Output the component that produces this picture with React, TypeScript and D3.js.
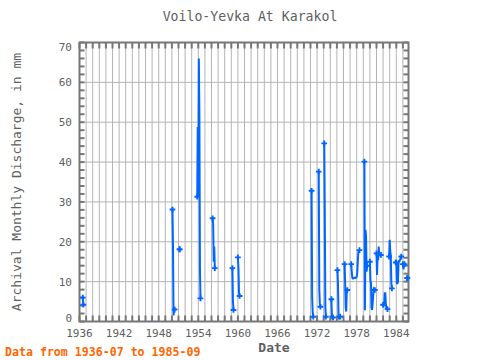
import * as d3 from 'd3';

// --- Data (monthly, contiguous runs) ---
const segStarts = [
  '1936-07', '1950-02', '1951-03', '1953-11', '1956-03', '1959-03', '1960-01',
  '1971-03', '1972-04', '1973-02', '1974-03', '1975-02', '1976-03', '1977-03',
  '1979-03', '1980-01', '1981-01', '1982-01', '1982-12', '1983-12', '1985-01', '1985-09',
];
const segValues: number[][] = [
  [6.0, 4.2],
  [28.1, 18.8, 1.5, 3.3, 3.0],
  [18.1],
  [31.3, 48.8, 31.5, 66.0, 51.8, 13.1, 5.8],
  [25.9, 24.6, 15.0, 18.8, 13.4],
  [13.4, 5.0, 2.9],
  [16.1, 13.4, 7.3, 6.4],
  [32.8, 6.2, 2.2, 1.2],
  [37.6, 7.9, 4.6, 3.7],
  [44.7, 26.7, 3.7, 1.2],
  [5.6, 1.2, 0.8, 1.0],
  [12.9, 9.2, 1.2, 0.8, 1.0, 1.2],
  [14.4, 9.6, 3.5, 2.5, 8.3, 7.9],
  [14.4, 12.5, 11.0, 10.8, 10.8, 10.9, 11.0, 11.0, 10.9, 11.0, 11.2, 12.2, 15.0, 17.4, 17.6, 17.9],
  [40.1, 2.8, 23.0, 21.5, 12.5, 14.0],
  [15.0, 10.4, 9.5, 3.4, 2.9, 4.5, 6.5, 8.1, 7.9, 7.9],
  [17.1, 11.7, 16.5, 15.4, 18.8, 16.5, 16.8, 16.7, 16.7],
  [4.2, 4.0, 4.5, 7.1, 7.1, 4.5, 3.3, 3.1, 3.1],
  [16.3, 20.5, 17.7, 16.5, 9.6, 8.3],
  [14.8, 15.5, 9.6, 9.6, 9.8, 14.5, 15.2, 15.2, 15.5, 16.0, 16.3],
  [14.4, 13.1, 14.0, 14.4],
  [10.9],
];

const yTicks = [0, 10, 20, 30, 40, 50, 60, 70];
const xTickYears = [1936, 1942, 1948, 1954, 1960, 1966, 1972, 1978, 1984];

const TITLE = 'Voilo-Yevka At Karakol';
const Y_LABEL = 'Archival Monthly Discharge, in mm';
const X_LABEL = 'Date';
const NOTE = 'Data from 1936-07 to 1985-09';

const W = 480, H = 360;
const M = { left: 79.5, right: 408.5, top: 42.5, bottom: 321.5 };
const FONT = '"DejaVu Sans Mono", monospace';
const BLUE = '#0066ff';
const AXIS = '#777777';
const GRID = '#b4b4b4';
const TEXT = '#606060';

const toYear = (s: string, i: number) => {
  const [y, m] = s.split('-').map(Number);
  return y + (m - 1 + i) / 12;
};

export default function App() {
  const x = d3.scaleLinear().domain([1936, 1985.85]).range([M.left, M.right]);
  const y = d3.scaleLinear().domain([0, 70]).range([M.bottom, M.top]);

  const segs = segStarts.map((s, k) => segValues[k].map((v, i) => [toYear(s, i), v] as [number, number]));
  const line = d3.line<[number, number]>().x(d => x(d[0])).y(d => y(d[1]));
  const cross = d3.symbol().type(d3.symbolCross).size(18)();

  const years = d3.range(1936, 1986);
  const minorY = d3.range(0, 71, 2);

  return (
    <svg width={W} height={H} style={{ position: 'absolute', left: 0, top: 0, background: '#fff' }}>
      <text x={250} y={21} textAnchor="middle" fontFamily={FONT} fontSize={13.2} fill={TEXT}>{TITLE}</text>

      {/* grid */}
      {years.map(yr => (
        <line key={'gx' + yr} x1={x(yr)} x2={x(yr)} y1={M.top} y2={M.bottom} stroke={GRID} strokeWidth={1} />
      ))}
      {yTicks.map(t => (
        <line key={'gy' + t} x1={M.left} x2={M.right} y1={y(t)} y2={y(t)} stroke={GRID} strokeWidth={1} />
      ))}

      {/* ticks */}
      {years.map(yr => (
        <g key={'tx' + yr}>
          <line x1={x(yr)} x2={x(yr)} y1={M.bottom} y2={M.bottom - 6} stroke={AXIS} strokeWidth={2} />
          <line x1={x(yr)} x2={x(yr)} y1={M.top} y2={M.top + 6} stroke={AXIS} strokeWidth={2} />
        </g>
      ))}
      {minorY.map(t => (
        <g key={'ty' + t}>
          <line x1={M.left} x2={M.left + 5} y1={y(t)} y2={y(t)} stroke={AXIS} strokeWidth={2} />
          <line x1={M.right} x2={M.right - 5} y1={y(t)} y2={y(t)} stroke={AXIS} strokeWidth={2} />
        </g>
      ))}
      <rect x={M.left} y={M.top} width={M.right - M.left} height={M.bottom - M.top} fill="none" stroke={AXIS} strokeWidth={2} />

      {/* tick labels */}
      {yTicks.map(t => (
        <text key={'ly' + t} x={72} y={y(t) + 4 + (t === 0 ? -4 : t === 70 ? 4 : 0)} textAnchor="end"
          fontFamily={FONT} fontSize={11} fill={TEXT}>{t}</text>
      ))}
      {xTickYears.map(t => (
        <text key={'lx' + t} x={x(t)} y={337} textAnchor="middle" fontFamily={FONT} fontSize={11} fill={TEXT}>{t}</text>
      ))}

      {/* data */}
      {segs.map((s, k) => (
        <g key={'s' + k}>
          {s.length > 1 && <path d={line(s) || ''} fill="none" stroke={BLUE} strokeWidth={2} />}
          <path d={cross} transform={`translate(${x(s[0][0])},${y(s[0][1])})`} fill={BLUE} />
          <path d={cross} transform={`translate(${x(s[s.length - 1][0])},${y(s[s.length - 1][1])})`} fill={BLUE} />
        </g>
      ))}

      <text x={274} y={352} textAnchor="middle" fontFamily={FONT} fontSize={13} fontWeight="bold" fill={TEXT}>{X_LABEL}</text>
      <text transform={`translate(21,182) rotate(-90)`} textAnchor="middle" fontFamily={FONT} fontSize={13} fill={TEXT}>{Y_LABEL}</text>
      <text x={5} y={356} fontFamily={FONT} fontSize={11.6} fontWeight="bold" fill="#ff6600">{NOTE}</text>
    </svg>
  );
}
